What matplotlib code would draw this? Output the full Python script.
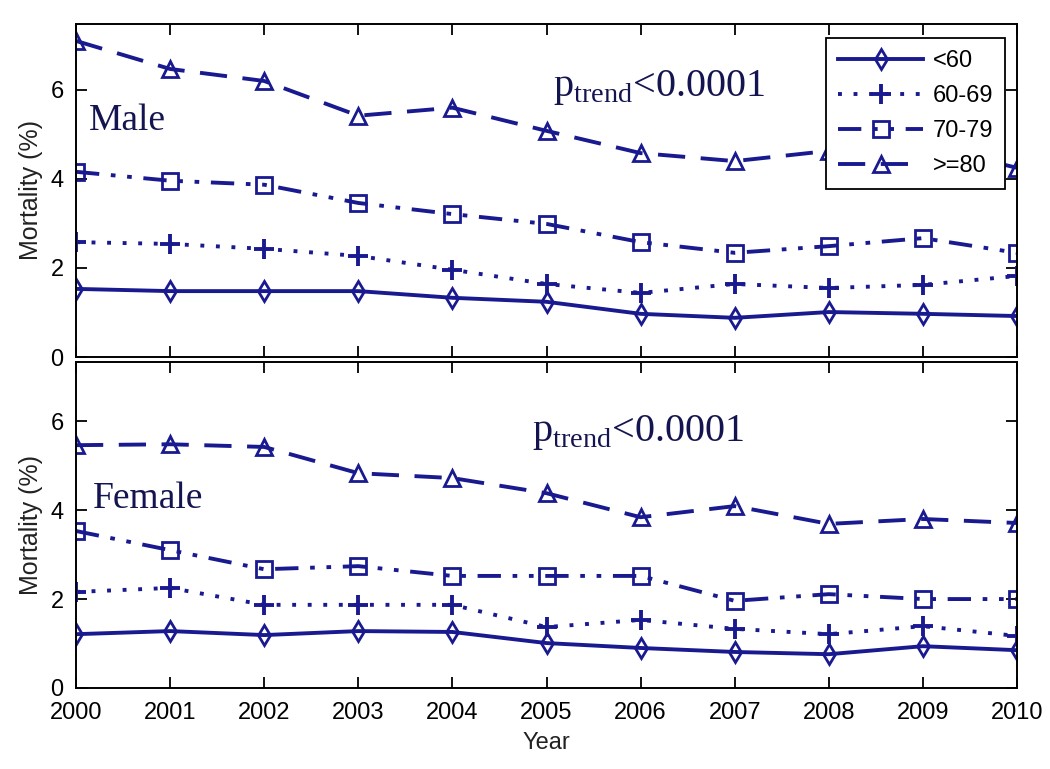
import matplotlib
matplotlib.use("Agg")
import matplotlib.pyplot as plt

years = list(range(2000, 2011))
labels = ["<60", "60-69", "70-79", ">=80"]

male_lt60 = [1.53, 1.48, 1.48, 1.48, 1.33, 1.24, 0.97, 0.88, 1.01, 0.97, 0.92]
male_6069 = [2.58, 2.54, 2.43, 2.27, 1.96, 1.64, 1.44, 1.64, 1.55, 1.62, 1.82]
male_7079 = [4.16, 3.96, 3.87, 3.46, 3.21, 2.99, 2.58, 2.34, 2.49, 2.67, 2.34]
male_ge80 = [7.10, 6.47, 6.20, 5.42, 5.60, 5.08, 4.58, 4.40, 4.63, 4.75, 4.25]

female_lt60 = [1.21, 1.28, 1.19, 1.28, 1.26, 1.01, 0.90, 0.81, 0.76, 0.94, 0.85]
female_6069 = [2.16, 2.25, 1.87, 1.87, 1.87, 1.37, 1.53, 1.33, 1.21, 1.39, 1.17]
female_7079 = [3.53, 3.10, 2.67, 2.74, 2.52, 2.52, 2.52, 1.96, 2.11, 2.00, 2.00]
female_ge80 = [5.46, 5.48, 5.42, 4.83, 4.72, 4.38, 3.84, 4.09, 3.69, 3.80, 3.71]

C = "#1a1a90"
SANS = "Liberation Sans"
styles = [
    dict(ls="-", marker="d", ms=10),
    dict(ls=(0, (1, 3)), marker="+", ms=14, mew=2.8),
    dict(ls=(0, (6, 3, 1.2, 3, 1.2, 3)), marker="s", ms=11),
    dict(ls=(0, (7, 4)), marker="^", ms=12),
]

fig = plt.figure(figsize=(10.5, 7.69), dpi=100)
ax1 = fig.add_axes([76/1050, 1-357/769, (1017-76)/1050, (357-24)/769])
ax2 = fig.add_axes([76/1050, 1-688/769, (1017-76)/1050, (688-362)/769])

def draw(ax, series, ymax):
    handles = []
    for vals, st, lab in zip(series, styles, labels):
        kw = dict(st)
        mew = kw.pop("mew", 2.0)
        h, = ax.plot(years, vals, color=C, lw=2.8, mfc="none", mec=C, mew=mew, label=lab, **kw)
        handles.append(h)
    ax.set_xlim(2000, 2010)
    ax.set_ylim(0, ymax)
    ax.set_yticks([0, 2, 4, 6])
    ax.set_xticks(years)
    ax.tick_params(direction="in", length=8, width=1.3, labelsize=17, top=True, right=True)
    ax.tick_params(axis="x", pad=10)
    ax.tick_params(axis="y", pad=9)
    for lab in ax.get_xticklabels() + ax.get_yticklabels():
        lab.set_family(SANS)
    for s in ax.spines.values():
        s.set_linewidth(1.4)
    ax.set_ylabel("Mortality (%)", fontsize=18, family=SANS, color="#222222", labelpad=5)
    return handles

h = draw(ax1, [male_lt60, male_6069, male_7079, male_ge80], 7.48)
draw(ax2, [female_lt60, female_6069, female_7079, female_ge80], 7.33)
ax1.tick_params(labelbottom=False)
ax2.set_xlabel("Year", fontsize=17, family=SANS, color="#222222", labelpad=6)

leg = ax1.legend(handles=h, loc="upper right", bbox_to_anchor=(1005/1050, 1-38/769),
                 bbox_transform=fig.transFigure, frameon=True, fancybox=False,
                 prop=dict(family=SANS, size=17), framealpha=1.0,
                 edgecolor="black", handlelength=3.6, handletextpad=0.4,
                 labelspacing=0.55, borderpad=0.5, borderaxespad=0)
leg.get_frame().set_linewidth(1.3)
leg.set_zorder(10)

serif = dict(family="Liberation Serif", color="#141450")
ax1.text(0.014, 0.682, "Male", transform=ax1.transAxes, fontsize=27, va="baseline", **serif)
ax1.text(0.507, 0.784, r"p$_{\mathregular{trend}}$<0.0001", transform=ax1.transAxes,
         fontsize=29, va="baseline", **serif)
ax2.text(0.018, 0.552, "Female", transform=ax2.transAxes, fontsize=27, va="baseline", **serif)
ax2.text(0.485, 0.758, r"p$_{\mathregular{trend}}$<0.0001", transform=ax2.transAxes,
         fontsize=29, va="baseline", **serif)

fig.savefig("out.png", dpi=100)
